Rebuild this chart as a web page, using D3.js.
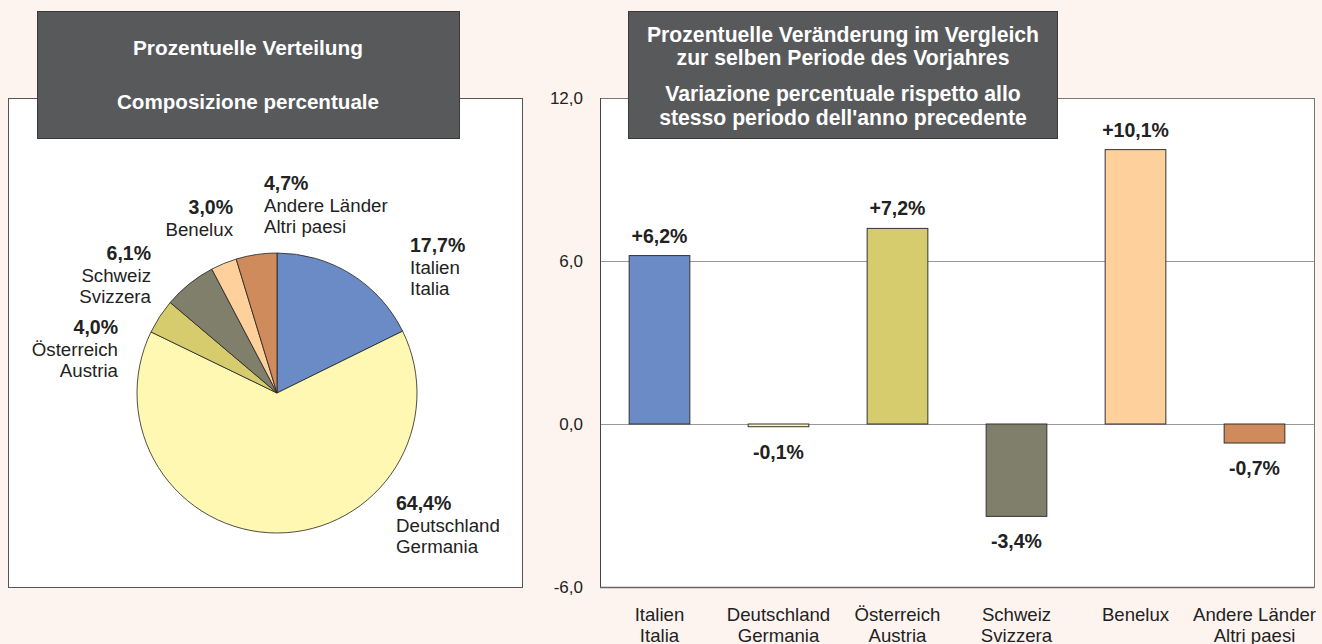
<!DOCTYPE html>
<html>
<head>
<meta charset="utf-8">
<script src="https://cdn.jsdelivr.net/npm/d3@7"></script>
<style>
  body { margin: 0; background: #fef4ef; }
  svg { display: block; }
  svg text { font-family: "Liberation Sans", Arial, sans-serif; }
</style>
</head>
<body>
<svg id="chart"></svg>
<script>
// --- data ---
const pieCategories = ["Italien", "Deutschland", "Österreich", "Schweiz", "Benelux", "Andere Länder"];
const pieNamesIt = ["Italia", "Germania", "Austria", "Svizzera", "", "Altri paesi"];
const pieShares = [17.7, 64.4, 4.0, 6.1, 3.0, 4.7];

const barCategories = ["Italien", "Deutschland", "Österreich", "Schweiz", "Benelux", "Andere Länder"];
const barNamesIt = ["Italia", "Germania", "Austria", "Svizzera", "", "Altri paesi"];
const barChanges = [6.2, -0.1, 7.2, -3.4, 10.1, -0.7];
const yTicks = [-6, 0, 6, 12];

const colors = ["#6b8bc6", "#fff8b2", "#d6cc6e", "#807f6c", "#fdd09c", "#cf8b5b"];

const W = 1322, H = 644;
const svg = d3.select("#chart").attr("width", W).attr("height", H);

const fmt = v => d3.format(".1f")(Math.abs(v)).replace(".", ",");

// =============== left panel: pie ===============
svg.append("rect")
  .attr("x", 8.5).attr("y", 98.5).attr("width", 514).attr("height", 489)
  .attr("fill", "#fff").attr("stroke", "#555").attr("stroke-width", 1);

const pieG = svg.append("g").attr("transform", "translate(277,393)");
const pie = d3.pie().sort(null).value(d => d)(pieShares);
const arc = d3.arc().innerRadius(0).outerRadius(140);

pieG.selectAll("path")
  .data(pie)
  .enter()
  .append("path")
  .attr("d", arc)
  .attr("fill", (d, i) => colors[i])
  .attr("stroke", "#222")
  .attr("stroke-width", 0.8);

// label anchors (placed by hand around the pie)
const pieLabelPos = [
  { x: 410, y: 252, anchor: "start" },
  { x: 396, y: 510, anchor: "start" },
  { x: 118, y: 334, anchor: "end" },
  { x: 151, y: 260, anchor: "end" },
  { x: 233, y: 214, anchor: "end" },
  { x: 264, y: 190, anchor: "start" }
];

pieCategories.forEach((c, i) => {
  const p = pieLabelPos[i];
  const t = svg.append("text")
    .attr("x", p.x).attr("y", p.y)
    .attr("text-anchor", p.anchor)
    .attr("font-size", 18.7)
    .attr("fill", "#222");
  t.append("tspan").attr("x", p.x).attr("font-weight", "bold").attr("font-size", 19.5)
    .text(fmt(pieShares[i]) + "%");
  t.append("tspan").attr("x", p.x).attr("dy", 21.5).text(c);
  if (pieNamesIt[i]) t.append("tspan").attr("x", p.x).attr("dy", 21).text(pieNamesIt[i]);
});

// title box left
svg.append("rect")
  .attr("x", 37.5).attr("y", 11.5).attr("width", 422).attr("height", 127)
  .attr("fill", "#58595b").attr("stroke", "#3a3a3a");
svg.append("text")
  .attr("x", 248).attr("y", 55).attr("text-anchor", "middle")
  .attr("font-size", 20.8).attr("font-weight", "bold").attr("fill", "#fff")
  .text("Prozentuelle Verteilung");
svg.append("text")
  .attr("x", 248).attr("y", 109).attr("text-anchor", "middle")
  .attr("font-size", 20.6).attr("font-weight", "bold").attr("fill", "#fff")
  .text("Composizione percentuale");

// =============== right panel: bars ===============
const plot = { left: 600, right: 1314, top: 98, bottom: 587 };

const xScale = d3.scaleBand()
  .domain(barCategories)
  .range([plot.left, plot.right])
  .paddingInner(0.49)
  .paddingOuter(0.245);

const yScale = d3.scaleLinear().domain([-6, 12]).range([plot.bottom, plot.top]);

svg.append("rect")
  .attr("x", plot.left + 0.5).attr("y", plot.top + 0.5)
  .attr("width", plot.right - plot.left).attr("height", plot.bottom - plot.top)
  .attr("fill", "#fff").attr("stroke", "#777");

// gridlines
svg.append("g")
  .selectAll("line")
  .data([0, 6])
  .enter()
  .append("line")
  .attr("x1", plot.left).attr("x2", plot.right)
  .attr("y1", d => Math.round(yScale(d)) + 0.5).attr("y2", d => Math.round(yScale(d)) + 0.5)
  .attr("stroke", "#999").attr("stroke-width", 1.2);

// left & bottom axis lines darker
svg.append("line")
  .attr("x1", plot.left + 0.5).attr("x2", plot.left + 0.5)
  .attr("y1", plot.top).attr("y2", plot.bottom + 0.5)
  .attr("stroke", "#444");
svg.append("line")
  .attr("x1", plot.left).attr("x2", plot.right)
  .attr("y1", plot.bottom + 0.5).attr("y2", plot.bottom + 0.5)
  .attr("stroke", "#666").attr("stroke-width", 1.5);

// y axis
const yAxis = d3.axisLeft(yScale).tickValues(yTicks).tickSize(0).tickPadding(17)
  .tickFormat(d => d3.format(".1f")(d).replace(".", ",").replace("−", "-"));
const yAxisG = svg.append("g")
  .attr("transform", `translate(${plot.left},0)`)
  .call(yAxis);
yAxisG.select(".domain").remove();
yAxisG.attr("font-family", null);
yAxisG.selectAll("text")
  .attr("font-size", 17)
  .attr("fill", "#222");

// bars
svg.append("g")
  .selectAll(".bar")
  .data(barChanges)
  .enter()
  .append("rect")
  .attr("class", "bar")
  .attr("x", (d, i) => xScale(barCategories[i]))
  .attr("width", xScale.bandwidth())
  .attr("y", d => yScale(Math.max(0, d)))
  .attr("height", d => Math.abs(yScale(d) - yScale(0)))
  .attr("fill", (d, i) => colors[i])
  .attr("stroke", "#333")
  .attr("stroke-width", 1);

// value labels
svg.append("g")
  .selectAll("text")
  .data(barChanges)
  .enter()
  .append("text")
  .attr("x", (d, i) => xScale(barCategories[i]) + xScale.bandwidth() / 2)
  .attr("y", d => d >= 0 ? yScale(d) - 13 : yScale(d) + 32)
  .attr("text-anchor", "middle")
  .attr("font-size", 19.5)
  .attr("font-weight", "bold")
  .attr("fill", "#222")
  .text(d => (d >= 0 ? "+" : "-") + fmt(d) + "%");

// category labels
const catG = svg.append("g");
barCategories.forEach((c, i) => {
  const cx = xScale(c) + xScale.bandwidth() / 2;
  const t = catG.append("text")
    .attr("x", cx).attr("y", 621)
    .attr("text-anchor", "middle")
    .attr("font-size", 18.6)
    .attr("fill", "#222");
  t.append("tspan").attr("x", cx).text(c);
  if (barNamesIt[i]) t.append("tspan").attr("x", cx).attr("dy", 20.5).text(barNamesIt[i]);
});

// title box right
svg.append("rect")
  .attr("x", 628.5).attr("y", 11.5).attr("width", 429).attr("height", 127)
  .attr("fill", "#58595b").attr("stroke", "#3a3a3a");
const titleLines = [
  ["Prozentuelle Veränderung im Vergleich", 42],
  ["zur selben Periode des Vorjahres", 65],
  ["Variazione percentuale rispetto allo", 101],
  ["stesso periodo dell'anno precedente", 125]
];
titleLines.forEach(([s, y]) => {
  svg.append("text")
    .attr("x", 843).attr("y", y).attr("text-anchor", "middle")
    .attr("font-size", 21.2).attr("font-weight", "bold").attr("fill", "#fff")
    .text(s);
});
</script>
</body>
</html>
